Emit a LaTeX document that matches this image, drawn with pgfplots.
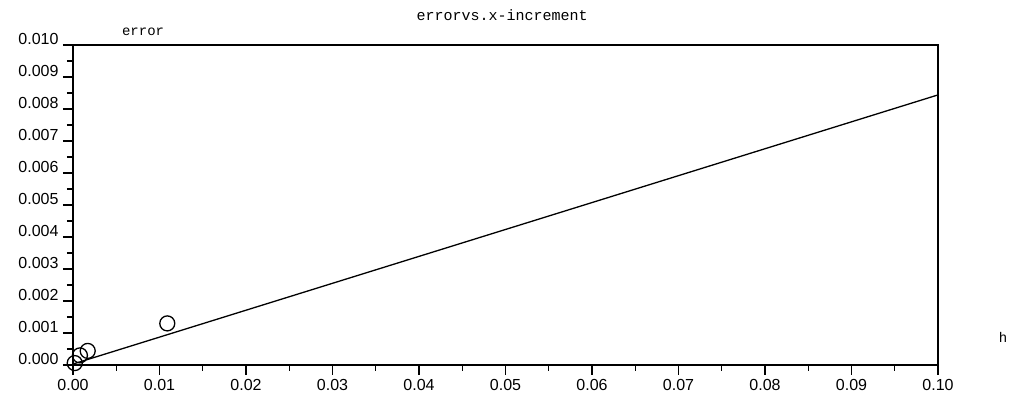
\documentclass[border=0pt]{standalone}
\usepackage{pgfplots}
\pgfplotsset{compat=1.18}
\usepackage{fontspec}
\setmainfont{Liberation Sans}
\newfontfamily\monof{Liberation Mono}
\begin{document}
\begin{tikzpicture}
\begin{axis}[
  scale only axis,
  width=865pt, height=320pt,
  xmin=0, xmax=0.1, ymin=0, ymax=0.01,
  axis line style={line width=1.6pt},
  xtick={0,0.01,...,0.1},
  ytick={0,0.001,...,0.01},
  xtick pos=bottom, ytick pos=left,
  minor x tick num=1, minor y tick num=1,
  tick align=outside,
  major tick length=10pt, minor tick length=6pt,
  tick style={line width=1.4pt, black},
  /pgf/number format/assume math mode=true,
  xticklabel={\pgfmathprintnumber[fixed,fixed zerofill,precision=2]{\tick}},
  yticklabel={\pgfmathprintnumber[fixed,fixed zerofill,precision=3]{\tick}},
  scaled ticks=false,
  ticklabel style={font=\fontsize{16}{18}\selectfont},
  yticklabel style={anchor=south east, yshift=-3pt, xshift=-1pt},
  xticklabel style={yshift=-1pt},
  clip=false,
]
\addplot[black, line width=1.3pt] coordinates {(0,0.00003) (0.1,0.00844)};
\addplot[only marks, mark=o, mark size=7.5pt, mark options={line width=1.3pt, fill=white}] coordinates {
 (0.0002,0.00006) (0.0008,0.0003) (0.0017,0.00044) (0.0109,0.0013)};
\node[font=\monof\fontsize{14}{16}\selectfont, anchor=base] at (axis cs:0.0081,0.01) [yshift=9pt] {error};
\node[font=\monof\fontsize{15}{18}\selectfont, anchor=base] at (axis cs:0.0496,0.01) [yshift=24pt] {errorvs.x-increment};
\node[font=\monof\fontsize{14}{16}\selectfont, anchor=base] at (axis cs:0.1,0) [xshift=65pt, yshift=22pt] {h};
\end{axis}
\pgfresetboundingbox
\path (-73pt,-30pt) rectangle (941pt,365pt);
\end{tikzpicture}
\end{document}
